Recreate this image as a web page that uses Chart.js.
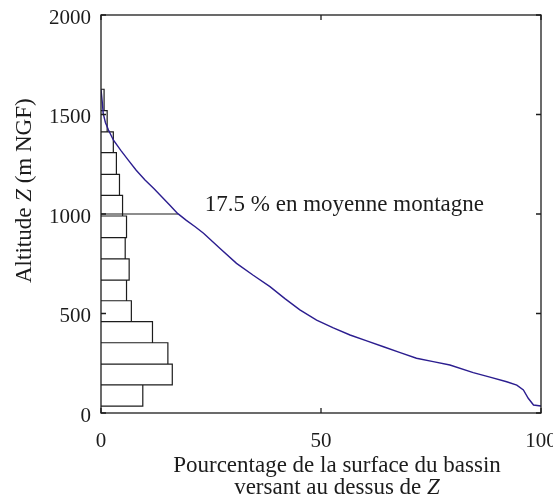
<!DOCTYPE html>
<html lang="fr">
<head>
<meta charset="utf-8">
<title>Courbe hypsométrique</title>
<script src="https://cdn.jsdelivr.net/npm/chart.js@4/dist/chart.umd.min.js"></script>
<style>
    html, body { margin: 0; padding: 0; background: #fff; }
    #wrap { width: 553px; height: 499px; position: relative; }
</style>
</head>
<body>
<div id="wrap">
    <canvas id="chart-hypso"></canvas>
</div>
<script>
    // Histogram bins: altitude edges (m NGF), bottom to top, and % of basin area per bin
    const binEdges = [35, 141, 246, 353, 459, 564, 668, 774, 881, 990, 1094, 1199, 1308, 1413, 1519, 1627];
    const binPercent = [9.5, 16.2, 15.2, 11.7, 6.9, 5.8, 6.4, 5.5, 5.8, 4.9, 4.2, 3.5, 2.8, 1.4, 0.7];

    // Hypsometric curve: % of area above Z, and Z
    const curvePercent = [0, 0.3, 0.5, 1.0, 1.7, 2.8, 4.5, 6.2, 8.0, 10.0, 12.0, 13.8, 15.6, 17.4, 19.4, 21.4,
        23.3, 27.0, 30.8, 34.6, 38.4, 41.8, 45.2, 49.0, 52.8, 56.6, 60.4, 64.2, 68.0, 71.7, 75.5, 79.3,
        84.6, 88.4, 92.2, 94.5, 96.0, 97.1, 98.3, 100];
    const curveAltitude = [1627, 1560, 1506, 1460, 1422, 1372, 1320, 1271, 1220, 1171, 1128, 1087, 1045, 1003, 968, 936,
        903, 828, 752, 692, 635, 575, 518, 467, 428, 392, 362, 333, 303, 275, 258, 241,
        203, 180, 157, 140, 116, 74, 40, 35];

    // Mean-mountain marker
    const meanAltitude = 1000;
    const meanPercent = 17.5;

    const xTicks = [0, 50, 100];
    const yTicks = [0, 500, 1000, 1500, 2000];

    const serif = '"Liberation Serif", "DejaVu Serif", serif';
    const ink = '#1c1c1c';

    // outline of all bars as a single path
    const barPath = [];
    binPercent.forEach((w, i) => {
        barPath.push({ x: 0, y: binEdges[i] });
        barPath.push({ x: w, y: binEdges[i] });
        barPath.push({ x: w, y: binEdges[i + 1] });
        barPath.push({ x: 0, y: binEdges[i + 1] });
    });

    const curvePoints = curvePercent.map((p, i) => ({ x: p, y: curveAltitude[i] }));

    const frameAndText = {
        id: 'frameAndText',
        afterDraw(chart) {
            const { ctx, scales: { x, y } } = chart;
            const L = x.getPixelForValue(x.min), R = x.getPixelForValue(x.max);
            const T = y.getPixelForValue(y.max), B = y.getPixelForValue(y.min);
            ctx.save();
            // box + inward ticks
            ctx.strokeStyle = ink;
            ctx.lineWidth = 1.3;
            ctx.strokeRect(L, T, R - L, B - T);
            ctx.beginPath();
            xTicks.forEach(v => {
                const px = x.getPixelForValue(v);
                ctx.moveTo(px, B); ctx.lineTo(px, B - 5);
                ctx.moveTo(px, T); ctx.lineTo(px, T + 5);
            });
            yTicks.forEach(v => {
                const py = y.getPixelForValue(v);
                ctx.moveTo(L, py); ctx.lineTo(L + 5, py);
                ctx.moveTo(R, py); ctx.lineTo(R - 5, py);
            });
            ctx.stroke();

            ctx.fillStyle = ink;
            ctx.textBaseline = 'alphabetic';
            const roman = '23px ' + serif;
            const italic = 'italic 23px ' + serif;

            // annotation
            ctx.font = roman;
            ctx.textAlign = 'left';
            ctx.fillText(meanPercent + ' % en moyenne montagne', x.getPixelForValue(23.6), y.getPixelForValue(meanAltitude) - 3);

            // x title (two lines, italic Z)
            const cx = 337;
            ctx.textAlign = 'center';
            ctx.fillText('Pourcentage de la surface du bassin', cx, 472);
            const s1 = 'versant au dessus de ';
            const w1 = ctx.measureText(s1).width;
            ctx.font = italic;
            const w2 = ctx.measureText('Z').width;
            ctx.textAlign = 'left';
            const sx = cx - (w1 + w2) / 2;
            ctx.font = roman;
            ctx.fillText(s1, sx, 494);
            ctx.font = italic;
            ctx.fillText('Z', sx + w1, 494);

            // y title (rotated, italic Z)
            ctx.translate(31, 283);
            ctx.rotate(-Math.PI / 2);
            const parts = [['Altitude ', roman], ['Z', italic], [' (m NGF)', roman]];
            let off = 0;
            parts.forEach(([t, f]) => {
                ctx.font = f;
                ctx.fillText(t, off, 0);
                off += ctx.measureText(t).width;
            });
            ctx.restore();
        }
    };

    const ctx = document.getElementById('chart-hypso').getContext('2d');
    new Chart(ctx, {
        type: 'scatter',
        data: {
            datasets: [
                {
                    label: 'Courbe hypsométrique',
                    data: curvePoints,
                    showLine: true,
                    borderColor: '#2b1d8f',
                    borderWidth: 1.4,
                    pointRadius: 0,
                    tension: 0
                },
                {
                    label: 'Moyenne montagne',
                    data: [{ x: 0, y: meanAltitude }, { x: meanPercent, y: meanAltitude }],
                    showLine: true,
                    borderColor: ink,
                    borderWidth: 1.1,
                    pointRadius: 0
                },
                {
                    label: 'Histogramme',
                    data: barPath,
                    showLine: true,
                    borderColor: ink,
                    borderWidth: 1.2,
                    pointRadius: 0,
                    tension: 0
                }
            ]
        },
        options: {
            responsive: true,
            maintainAspectRatio: false,
            animation: false,
            layout: { padding: { top: 15, right: 12, left: 0, bottom: 0 } },
            plugins: { legend: { display: false }, tooltip: { enabled: false } },
            scales: {
                x: {
                    type: 'linear',
                    min: 0, max: 100,
                    afterBuildTicks: s => { s.ticks = xTicks.map(v => ({ value: v })); },
                    afterFit: s => { s.height = 86; s.paddingLeft = 0; s.paddingRight = 0; },
                    grid: { display: false, drawTicks: false },
                    border: { display: false },
                    ticks: { color: ink, padding: 16, font: { family: serif, size: 21 }, maxRotation: 0,
                        callback: v => String(v) }
                },
                y: {
                    type: 'linear',
                    min: 0, max: 2000,
                    afterBuildTicks: s => { s.ticks = yTicks.map(v => ({ value: v })); },
                    afterFit: s => { s.width = 101; s.paddingTop = 0; s.paddingBottom = 0; },
                    grid: { display: false, drawTicks: false },
                    border: { display: false },
                    ticks: { color: ink, padding: 10, labelOffset: 3, font: { family: serif, size: 21 },
                        callback: v => String(v) }
                }
            }
        },
        plugins: [frameAndText]
    });
</script>
</body>
</html>
